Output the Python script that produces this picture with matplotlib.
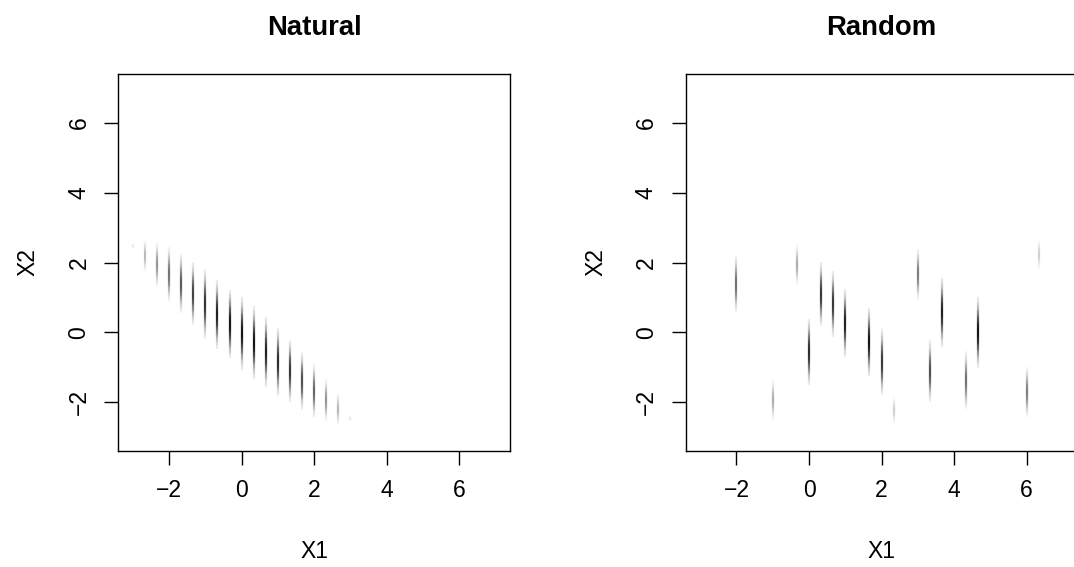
import matplotlib
matplotlib.use('Agg')
import matplotlib.pyplot as plt
import numpy as np
from matplotlib.collections import LineCollection

plt.rcParams['font.family'] = ['Liberation Sans', 'DejaVu Sans']

# streaks: x position, lowest y, highest y, peak darkness (0 white .. 1 black)
nat_x = [-3, -2.667, -2.333, -2, -1.667, -1.333, -1, -0.667, -0.333, 0,
         0.333, 0.667, 1, 1.333, 1.667, 2, 2.333, 2.667, 3]
nat_lo = [2.40, 1.73, 1.30, 0.87, 0.55, 0.20, -0.18, -0.47, -0.75, -1.07,
          -1.33, -1.57, -1.83, -2.00, -2.23, -2.44, -2.55, -2.66, -2.55]
nat_hi = [2.55, 2.66, 2.57, 2.44, 2.23, 2.01, 1.80, 1.49, 1.22, 1.01,
          0.74, 0.44, 0.13, -0.21, -0.56, -0.92, -1.33, -1.74, -2.40]
nat_dark = [0.1, 0.3, 0.45, 0.6, 0.7, 0.8, 0.88, 0.95, 1.0, 1.0,
            1.0, 0.95, 0.9, 0.85, 0.75, 0.65, 0.45, 0.3, 0.1]

rnd_x = [-2, -1, -0.333, 0, 0.333, 0.667, 1, 1.667, 2, 2.333,
         3, 3.333, 3.667, 4.333, 4.667, 6, 6.333]
rnd_lo = [0.55, -2.52, 1.35, -1.52, 0.17, -0.13, -0.71, -1.26, -1.81, -2.64,
          0.92, -2.00, -0.42, -2.21, -1.01, -2.43, 1.78]
rnd_hi = [2.21, -1.36, 2.52, 0.39, 2.01, 1.76, 1.25, 0.71, 0.11, -1.83,
          2.40, -0.23, 1.57, -0.54, 1.01, -0.99, 2.68]
rnd_dark = [0.6, 0.35, 0.35, 0.9, 0.85, 0.85, 0.95, 1.0, 0.85, 0.2,
            0.55, 0.75, 0.95, 0.6, 1.0, 0.55, 0.2]

ticks = [-2, 0, 2, 4, 6]
W, H = 1074, 567


def draw_streaks(ax, xs, lo, hi, dark):
    # each streak fades out towards its ends
    t = np.linspace(0, 1, 61)
    mid = (t[:-1] + t[1:]) / 2
    fade = np.exp(-2.6 * np.abs(2 * mid - 1) ** 2.2)
    for x, a, b, d in zip(xs, lo, hi, dark):
        ys = a + (b - a) * t
        segs = [[(x, ys[i]), (x, ys[i + 1])] for i in range(len(t) - 1)]
        g = 1 - 0.92 * d * fade
        cols = [(v, v, v) for v in g]
        ax.add_collection(LineCollection(segs, colors=cols, linewidths=1.6,
                                         capstyle='butt'))


fig = plt.figure(figsize=(W / 100, H / 100), dpi=100)
panels = [('Natural', 118.3, nat_x, nat_lo, nat_hi, nat_dark),
          ('Random', 685.7, rnd_x, rnd_lo, rnd_hi, rnd_dark)]
for title, left, xs, lo, hi, dark in panels:
    ax = fig.add_axes([left / W, 1 - 451 / H, 391.7 / W, 377 / H])
    draw_streaks(ax, xs, lo, hi, dark)
    ax.set_xlim(-3.4, 7.4)
    ax.set_ylim(-3.4, 7.4)
    ax.set_xticks(ticks)
    ax.set_yticks(ticks)
    ax.set_xticklabels(['\u22122', '0', '2', '4', '6'])
    ax.set_yticklabels(['\u22122', '0', '2', '4', '6'])
    ax.tick_params(length=10, width=1, labelsize=16.5, pad=10)
    ax.tick_params(axis='y', labelrotation=90)
    for lab in ax.get_yticklabels():
        lab.set_va('center')
    for s in ax.spines.values():
        s.set_linewidth(1)
    cx = left + 391.7 / 2
    fig.text(cx / W, 1 - 28 / H, title, ha='center', va='center',
             fontsize=19.8, fontweight='bold')
    fig.text(cx / W, 1 - 552 / H, 'X1', ha='center', va='center', fontsize=16.5)
    fig.text((left - 90) / W, 1 - 262.5 / H, 'X2', ha='center', va='center',
             fontsize=16.5, rotation=90)

fig.savefig('out.png', dpi=100)
